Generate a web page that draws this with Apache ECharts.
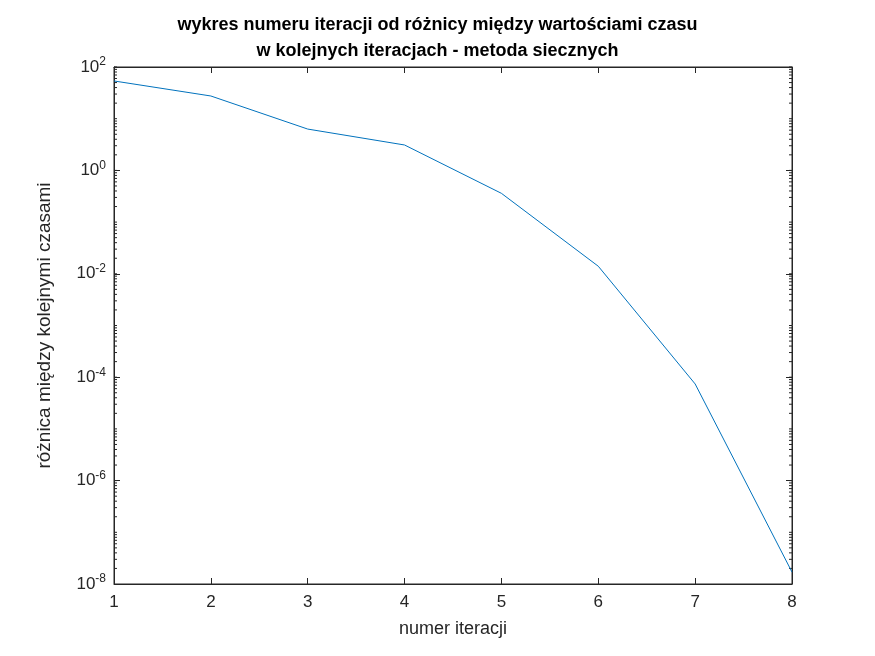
<!DOCTYPE html><html><head><meta charset="utf-8">
<script src="https://cdn.jsdelivr.net/npm/echarts@6/dist/echarts.min.js"></script>
<style>html,body{margin:0;background:#fff}#c{width:875px;height:656px}</style></head><body><div id="c"></div>
<script>
const iterations=[1,2,3,4,5,6,7,8];
const diffs=[53.7,27.5,6.3,3.1,0.36,0.014,7.4e-5,1.7e-8];
const titleText='wykres numeru iteracji od różnicy między wartościami czasu\nw kolejnych iteracjach - metoda siecznych';
const xName='numer iteracji', yName='różnica między kolejnymi czasami';
const F='Liberation Sans, Arial, sans-serif';
const minorVals=[];
for(let e=-8;e<2;e++)for(let m=2;m<=10;m++)minorVals.push(m*Math.pow(10,e));
const ch=echarts.init(document.getElementById('c'));
const lbl={color:'#262626',fontFamily:F,fontSize:17};
ch.setOption({animation:false,
title:{text:titleText,left:'center',top:7,textStyle:{fontFamily:F,fontSize:18,fontWeight:'bold',color:'#000',lineHeight:26}},
grid:{left:114,right:83,top:67,bottom:72,show:true,borderColor:'#262626',borderWidth:1},
xAxis:[{type:'value',min:1,max:8,interval:1,name:xName,nameLocation:'middle',nameGap:36,nameTextStyle:{fontFamily:F,fontSize:18,color:'#262626'},
axisLine:{lineStyle:{color:'#262626'}},axisTick:{inside:true,length:6,lineStyle:{color:'#262626'}},axisLabel:Object.assign({margin:10},lbl),splitLine:{show:false}},
{type:'value',position:'top',min:1,max:8,interval:1,axisLine:{lineStyle:{color:'#262626'}},axisTick:{inside:true,length:6},axisLabel:{show:false},splitLine:{show:false}}],
yAxis:[{type:'log',logBase:100,min:1e-8,max:1e2,name:yName,nameLocation:'middle',nameGap:60,nameTextStyle:{fontFamily:F,fontSize:19,color:'#262626'},
axisLine:{lineStyle:{color:'#262626'}},axisTick:{inside:true,length:6,lineStyle:{color:'#262626'}},
axisLabel:Object.assign({margin:8,formatter:v=>'10{s|'+Math.round(Math.log10(v))+'}',rich:{s:{fontFamily:F,fontSize:12,color:'#262626',verticalAlign:'top',padding:[0,0,10,0]}}},lbl),splitLine:{show:false}},
{type:'log',logBase:100,min:1e-8,max:1e2,position:'right',axisLine:{lineStyle:{color:'#262626'}},axisTick:{inside:true,length:6},axisLabel:{show:false},splitLine:{show:false}}],
series:[{type:'line',data:iterations.map((x,i)=>[x,diffs[i]]),showSymbol:false,lineStyle:{color:'#0072BD',width:1}},
{type:'custom',silent:true,data:minorVals.map(v=>[1,v]),renderItem:(p,api)=>{
 const a=api.coord([1,api.value(1)]),b=api.coord([8,api.value(1)]);
 const st={stroke:'#262626',lineWidth:1};
 return {type:'group',children:[{type:'line',shape:{x1:a[0],y1:a[1],x2:a[0]+3,y2:a[1]},style:st},{type:'line',shape:{x1:b[0],y1:b[1],x2:b[0]-3,y2:b[1]},style:st}]};
}}]
});
</script></body></html>
